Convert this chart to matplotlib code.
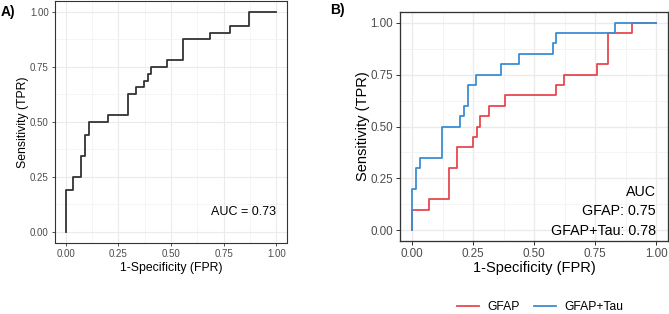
import numpy as np
import matplotlib
matplotlib.use("Agg")
import matplotlib.pyplot as plt
from matplotlib.lines import Line2D

plt.rcParams['font.family'] = ['Liberation Sans', 'DejaVu Sans']

# ---- data ----
# Panel A: single ROC curve (corner points, steps-post)
fprA = [0, 0, 0.037, 0.074, 0.0926, 0.111, 0.2, 0.296, 0.333, 0.37, 0.389,
        0.407, 0.481, 0.556, 0.685, 0.778, 0.87, 1.0]
tprA = [0, 0.1875, 0.25, 0.34375, 0.4375, 0.5, 0.53125, 0.625, 0.65625,
        0.6875, 0.71875, 0.75, 0.78125, 0.875, 0.90625, 0.9375, 1.0, 1.0]
aucA = 0.73

# Panel B: GFAP
fprGfap = [0, 0, 0.067, 0.149, 0.182, 0.248, 0.264, 0.278, 0.315, 0.38,
           0.59, 0.621, 0.757, 0.804, 0.901, 1.0]
tprGfap = [0, 0.1, 0.15, 0.3, 0.4, 0.45, 0.5, 0.55, 0.6, 0.65,
           0.7, 0.75, 0.8, 0.95, 1.0, 1.0]
# Panel B: GFAP+Tau
fprTau = [0, 0, 0.015, 0.032, 0.123, 0.198, 0.211, 0.227, 0.26, 0.364,
          0.439, 0.576, 0.59, 0.833, 1.0]
tprTau = [0, 0.2, 0.3, 0.35, 0.5, 0.55, 0.6, 0.7, 0.75, 0.8,
          0.85, 0.9, 0.95, 1.0, 1.0]
aucGfap = 0.75
aucTau = 0.78

ticks = [0, 0.25, 0.5, 0.75, 1.0]
tickLabels = ["0.00", "0.25", "0.50", "0.75", "1.00"]

RED = '#E8464F'
BLUE = '#3B8ED4'

W, H = 669, 314
fig = plt.figure(figsize=(W / 100, H / 100), dpi=100)


def px_axes(left, top, right, bottom):
    return fig.add_axes([left / W, 1 - bottom / H, (right - left) / W,
                         (bottom - top) / H])


def style_axes(ax, tickSize, scale):
    ax.set_xlim(-0.05, 1.05)
    ax.set_ylim(-0.05, 1.05)
    ax.set_xticks(ticks)
    ax.set_yticks(ticks)
    ax.set_xticklabels(tickLabels)
    ax.set_yticklabels(tickLabels)
    ax.set_xticks([0.125, 0.375, 0.625, 0.875], minor=True)
    ax.set_yticks([0.125, 0.375, 0.625, 0.875], minor=True)
    ax.grid(which='major', color='#EBEBEB', linewidth=0.8 * scale)
    ax.grid(which='minor', color='#F2F2F2', linewidth=0.5 * scale)
    ax.tick_params(which='minor', length=0)
    ax.tick_params(which='major', labelsize=tickSize, colors='#333333',
                   labelcolor='#4D4D4D', length=2.5 * scale, width=0.6 * scale,
                   pad=2)
    for s in ax.spines.values():
        s.set_color('#333333')
        s.set_linewidth(0.8 * scale)
    ax.set_axisbelow(True)


# ---- Panel A ----
axA = px_axes(55, 1, 287, 242.5)
style_axes(axA, 7, 1.0)
axA.plot(fprA, tprA, drawstyle='steps-post', color='#333333', linewidth=1.3)
axA.text(1.0, 0.091, f"AUC = {aucA:.2f}", ha='right', va='center', fontsize=9)
axA.set_xlabel("1-Specificity (FPR)", fontsize=8.8, labelpad=2)
axA.set_ylabel("Sensitivity (TPR)", fontsize=8.8, labelpad=0.5)
fig.text(0.5 / W, 1 - 12 / H, "A)", fontsize=10, fontweight='bold', va='center')

# ---- Panel B ----
axB = px_axes(400, 12.3, 668.2, 240.7)
style_axes(axB, 8.4, 1.18)
axB.plot(fprGfap, tprGfap, drawstyle='steps-post', color=RED, linewidth=1.3)
axB.plot(fprTau, tprTau, drawstyle='steps-post', color=BLUE, linewidth=1.3)
axB.text(1.0, 0.185, "AUC", ha='right', va='center', fontsize=10.3)
axB.text(1.0, 0.093, f"GFAP: {aucGfap:.2f}", ha='right', va='center', fontsize=10.3)
axB.text(1.0, -0.002, f"GFAP+Tau: {aucTau:.2f}", ha='right', va='center', fontsize=10.3)
axB.set_xlabel("1-Specificity (FPR)", fontsize=10.5, labelpad=1)
axB.set_ylabel("Sensitivity (TPR)", fontsize=10.5, labelpad=0.5)
fig.text(330.5 / W, 1 - 10 / H, "B)", fontsize=10, fontweight='bold', va='center')

handles = [Line2D([], [], color=RED, linewidth=1.3),
           Line2D([], [], color=BLUE, linewidth=1.3)]
fig.legend(handles, ["GFAP", "GFAP+Tau"], loc='center',
           bbox_to_anchor=(540 / W, 1 - 307 / H), ncol=2, frameon=False,
           fontsize=8.7, handlelength=1.8, columnspacing=1.2,
           handletextpad=0.7)

fig.savefig("out.png", dpi=100)
